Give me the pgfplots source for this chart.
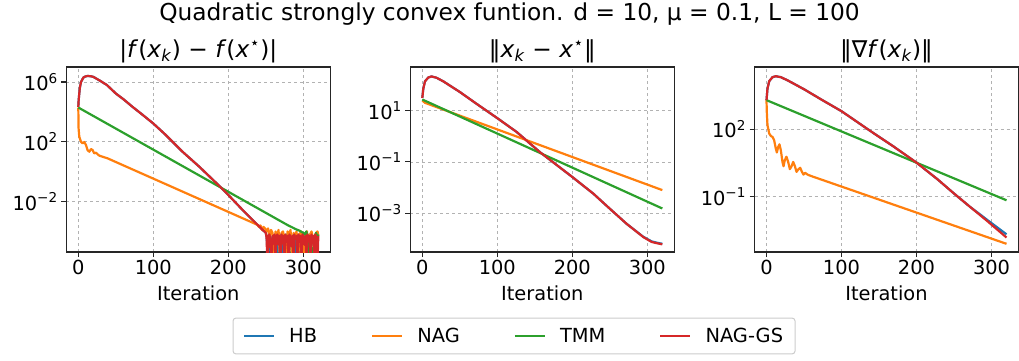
\documentclass[border=0pt]{standalone}
\usepackage{fontspec}
\setmainfont{DejaVu Sans}
\usepackage{pgfplots}
\pgfplotsset{compat=1.18}
\definecolor{cHB}{HTML}{1F77B4}
\definecolor{cNAG}{HTML}{FF7F0E}
\definecolor{cTMM}{HTML}{2CA02C}
\definecolor{cGS}{HTML}{D62728}
\newcommand{\tp}[1]{10\textsuperscript{#1}}
\newcommand{\mi}[1]{\textit{#1}}
\pgfplotsset{
 myax/.style={
  scale only axis, width=264pt, height=185pt,
  xmin=-16, xmax=336, xtick={0,100,200,300},
  grid=major, grid style={dashed, black!30, line width=0.8pt},
  axis line style={black!85, line width=1.1pt},
  tick align=outside, major tick length=5pt, tick style={black!85, line width=1.1pt},
  xtick pos=bottom, ytick pos=left,
  yminorticks=false,
  /pgf/number format/assume math mode=true,
  font=\fontsize{19.4}{23}\selectfont,
  xlabel={Iteration},
  xlabel style={yshift=-4pt},
  title style={font=\fontsize{23.3}{28}\selectfont, yshift=-6pt},
  no markers,
  every axis plot/.append style={line width=2.2pt, line join=round},
  legend image code/.code={\draw[##1] (0pt,0pt) -- (30pt,0pt);},
 }
}
\begin{document}
\begin{tikzpicture}
\path[use as bounding box] (0,0) rectangle (1019pt,360pt);
\node[font=\fontsize{23.3}{28}\selectfont] at (509.5pt,346pt) {Quadratic strongly convex funtion. d = 10, μ = 0.1, L = 100};
% ---------- axis 1
\begin{axis}[ymode=log, myax, at={(66.3pt,108pt)}, anchor=south west,
  ymin=4.2e-6, ymax=1e7, ytick={1e-2,1e2,1e6}, yticklabels={\tp{−2},\tp{2},\tp{6}},
  title={|\mi{f}(\mi{x}\textsubscript{\mi{k}}) − \mi{f}(\mi{x}\textsuperscript{⋆})|}]
\addplot[cHB] coordinates {(0,2.14e4)(0.5,6.3e4)(1.3,1.66e5)(2,3.98e5)(3.6,1.0e6)(6.7,1.95e6)(9,2.29e6)(12.4,2.51e6)(16.9,2.40e6)(20,2.19e6)(28,1.29e6)(38,6.3e5)(50.2,1.66e5)(60,7.1e4)(72.4,2.14e4)(85,6.76e3)(100,1.66e3)(116.9,275)(139,21.4)(161.3,2.14)(188.9,0.1)(200,2.75e-2)(219,2.75e-3)(239,2.75e-4)(250,7.9e-5)
(251,5e-5)(253,1e-6)(255,6.3e-5)(257,3.2e-5)(259,1e-6)(261,5e-5)(263,6.3e-5)(265,1e-6)(267,4e-5)(269,6.3e-5)(271,1e-6)(273,5e-5)(275,2.5e-5)(277,6.3e-5)(279,1e-6)(281,5e-5)(283,4e-5)(285,1e-6)(287,6.3e-5)(289,3.2e-5)(291,1e-6)(293,5e-5)(295,6.3e-5)(297,1e-6)(299,4e-5)(301,6.3e-5)(303,1e-6)(305,5e-5)(307,3.2e-5)(309,1e-6)(311,6.3e-5)(313,4e-5)(315,1e-6)(317,5e-5)(319,6.3e-5)};
\addplot[cNAG] coordinates {(0,1.95e4)(0.4,776)(1.3,214)(3.6,100)(5.8,77.6)(8,95.5)(10.2,60.3)(12.4,27.5)(14.7,21.4)(16.9,32.4)(19,28.2)(21.3,16.6)(23.5,18.6)(25.8,14.5)(28,11.7)(39,7.76)(239,2.75e-4)
(241,2.0e-4)(243,2.5e-4)(245,1.26e-4)(247,2.0e-4)(249,1.58e-4)(251,1e-4)(253,1.58e-4)(255,4e-5)(257,1.26e-4)(259,7.9e-5)(261,1e-6)(263,1e-4)(265,5e-5)(267,1.26e-4)(269,1e-6)(271,7.9e-5)(273,1e-4)(275,3.2e-5)(277,1e-6)(279,1e-4)(281,6.3e-5)(283,1.26e-4)(285,1e-6)(287,7.9e-5)(289,5e-5)(291,1e-4)(293,1e-6)(295,6.3e-5)(297,1e-4)(299,4e-5)(301,1e-6)(303,7.9e-5)(305,1e-4)(307,1e-6)(309,6.3e-5)(311,1e-4)(313,3.2e-5)(315,1e-6)(317,7.9e-5)(319,1e-4)(320,5e-5)};
\addplot[cTMM] coordinates {(0,1.95e4)(280,2.5e-4)(285,1.9e-4)(290,1.41e-4)(295,1.12e-4)(300,7.9e-5)(302,6.3e-5)(304,1e-4)(306,5e-5)(308,1e-6)(309,7.9e-6)(310,1e-6)(311,7.9e-6)(312,1e-6)(313,7.9e-6)(314,1e-6)(315,5e-5)(317,7.9e-5)(319,4e-5)(320,6.3e-5)};
\addplot[cGS] coordinates {(0,2.14e4)(0.5,6.3e4)(1.3,1.66e5)(2,3.98e5)(3.6,1.0e6)(6.7,1.95e6)(9,2.29e6)(12.4,2.51e6)(16.9,2.40e6)(20,2.19e6)(28,1.29e6)(38,6.3e5)(50.2,1.66e5)(60,7.1e4)(72.4,2.14e4)(85,6.76e3)(100,1.66e3)(116.9,275)(139,21.4)(161.3,2.14)(188.9,0.1)(200,2.75e-2)(219,2.75e-3)(239,2.75e-4)(250,7.9e-5)
(251,4e-5)(252,1e-6)(253.5,5e-5)(255,6.3e-5)(256,1.6e-5)(257.5,1e-6)(259,5e-5)(260,2.5e-5)(261.5,6.3e-5)(263,1e-6)(264,4e-5)(265.5,6.3e-5)(267,1.3e-5)(268,5e-5)(269.5,1e-6)(271,6.3e-5)(272,3.2e-5)(273.5,5e-5)(275,1e-6)(276,6.3e-5)(277.5,2e-5)(279,5e-5)(280,1e-6)(281.5,6.3e-5)(283,4e-5)(284,1e-5)(285.5,5e-5)(287,1e-6)(288,6.3e-5)(289.5,3.2e-5)(291,5e-5)(292,1e-6)(293.5,6.3e-5)(295,2e-5)(296,5e-5)(297.5,1e-6)(299,6.3e-5)(300,4e-5)(301.5,1.3e-5)(303,5e-5)(304,1e-6)(305.5,6.3e-5)(307,3.2e-5)(308,5e-5)(309.5,1e-6)(311,6.3e-5)(312,2e-5)(313.5,5e-5)(315,1e-6)(316,6.3e-5)(317.5,4e-5)(319,1e-6)(320,5e-5)};
\end{axis}
% ---------- axis 2
\begin{axis}[ymode=log, myax, at={(410.3pt,108pt)}, anchor=south west,
  ymin=3.0e-5, ymax=513, ytick={1e-3,1e-1,1e1}, yticklabels={\tp{−3},\tp{−1},\tp{1}},
  title={‖\mi{x}\textsubscript{\mi{k}} − \mi{x}\textsuperscript{⋆}‖},
  legend columns=4,
  legend style={at={(0.393,-0.454)}, anchor=center, draw=black!20, line width=1pt, rounded corners=3pt, fill=white,
    font=\fontsize{19.4}{23}\selectfont, inner xsep=10pt, inner ysep=8pt,
    /tikz/every even column/.append style={column sep=52pt},
    /tikz/every odd column/.append style={column sep=12pt}}]
\addplot[cHB] coordinates {(0,31.6)(1.3,72.4)(3.6,141)(8,200)(12.4,219)(19,195)(28,141)(50.2,53.7)(72.4,18.6)(100,5.13)(125.8,1.48)(156.9,0.24)(200,0.0257)(228,5.75e-3)(250,1.48e-3)(272.4,3.8e-4)(294.7,1.18e-4)(305.8,7.8e-5)(314,6.8e-5)(320,6.3e-5)};
\addlegendentry{HB}
\addplot[cNAG] coordinates {(0,25.1)(3.6,20.4)(320,7.9e-3)};
\addlegendentry{NAG}
\addplot[cTMM] coordinates {(0,27.5)(320,1.51e-3)};
\addlegendentry{TMM}
\addplot[cGS] coordinates {(0,31.6)(1.3,72.4)(3.6,141)(8,200)(12.4,219)(19,195)(28,141)(50.2,53.7)(72.4,18.6)(100,5.13)(125.8,1.48)(156.9,0.24)(200,0.0257)(228,5.75e-3)(250,1.48e-3)(272.4,3.8e-4)(294.7,1.15e-4)(305.8,7.4e-5)(314,6.5e-5)(320,6.0e-5)};
\addlegendentry{NAG-GS}
\end{axis}
% ---------- axis 3
\begin{axis}[ymode=log, myax, at={(754.5pt,108pt)}, anchor=south west,
  ymin=3.6e-4, ymax=5.75e4, ytick={1e-1,1e2}, yticklabels={\tp{−1},\tp{2}},
  title={‖∇\mi{f}(\mi{x}\textsubscript{\mi{k}})‖}]
\addplot[cHB] coordinates {(0,1950)(1.3,6310)(3.6,1.35e4)(8,2.04e4)(12.4,2.24e4)(19,2.04e4)(28,1.48e4)(50.2,5890)(72.4,2140)(100,631)(139,81.3)(170,16.6)(200,3.31)(228,0.603)(250,0.141)(272.4,0.0339)(284,1.75e-2)(294.7,9.3e-3)(320,2.19e-3)};
\addplot[cNAG] coordinates {(0,1950)(0.4,589)(1.3,151)(3.6,64.6)(5.8,50.1)(8,45.7)(10.2,32.4)(12.4,13.8)(13.8,9.33)(15.6,16.6)(17.3,21.4)(19.1,11.7)(21.3,3.55)(22.7,2.29)(24.4,4.27)(26.6,6.03)(28.9,3.55)(31.1,1.70)(33.3,2.24)(35.6,3.55)(37.8,2.34)(40,1.29)(42.7,1.70)(44.9,1.95)(47.1,1.32)(49.3,0.977)(51.5,1.17)(54.7,0.977)(59.1,0.851)(320,8.3e-4)};
\addplot[cTMM] coordinates {(0,1950)(320,0.0708)};
\addplot[cGS] coordinates {(0,1950)(1.3,6310)(3.6,1.35e4)(8,2.04e4)(12.4,2.24e4)(19,2.04e4)(28,1.48e4)(50.2,5890)(72.4,2140)(100,631)(139,81.3)(170,16.6)(200,3.31)(228,0.603)(250,0.141)(272.4,0.0339)(294.7,8.3e-3)(320,1.58e-3)};
\end{axis}
\end{tikzpicture}
\end{document}
